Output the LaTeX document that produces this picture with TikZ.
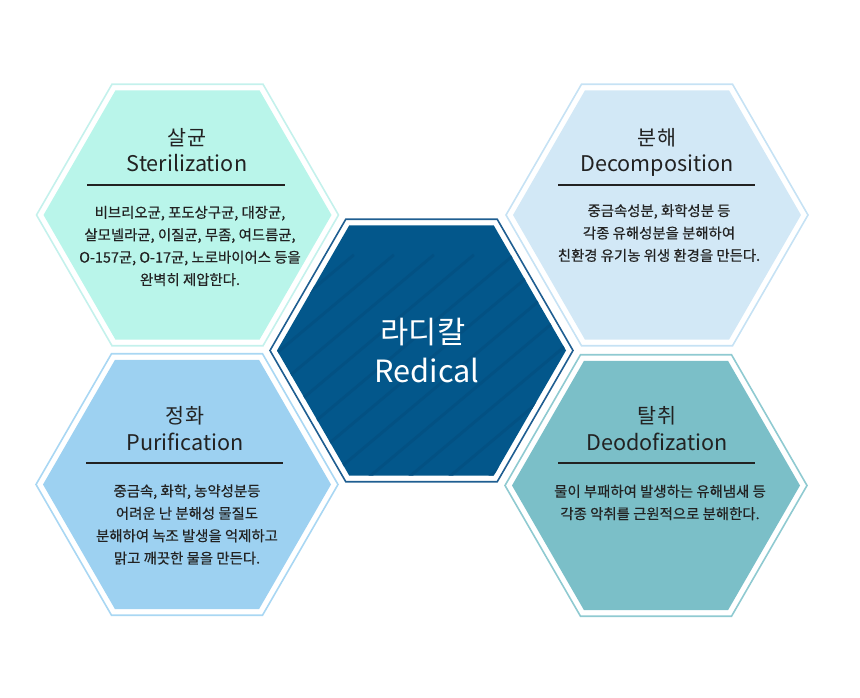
\documentclass[tikz,border=0pt]{standalone}
\usepackage{fontspec}
\setmainfont{Noto Sans CJK KR}
\newfontfamily\bodyfont{Noto Sans CJK KR}[FakeBold = 0.5]

\definecolor{mintfill}{HTML}{B9F5EA}
\definecolor{mintline}{HTML}{C4F1EC}
\definecolor{skyfill}{HTML}{D2E8F6}
\definecolor{skyline}{HTML}{C6E2F4}
\definecolor{bluefill}{HTML}{9DD1F1}
\definecolor{blueline}{HTML}{A9D7F3}
\definecolor{tealfill}{HTML}{7BBFC8}
\definecolor{tealline}{HTML}{8FCAD1}
\definecolor{navyfill}{HTML}{03578B}
\definecolor{navyline}{HTML}{1F5E91}
\definecolor{navystripe}{HTML}{035183}
\definecolor{inktext}{HTML}{222222}

% hexagon with left and right corners, radius #1
\newcommand{\hexagon}[1]{++(0:#1) -- ++(120:#1) -- ++(180:#1) -- ++(240:#1) -- ++(300:#1) -- ++(0:#1) -- cycle}

\tikzset{
	hexline/.style = {line width = 1.2pt},
	stripe/.style = {navystripe, line width = 2.2pt},
	kortitle/.style = {inktext, font = \fontsize{15.5}{18}\selectfont},
	engtitle/.style = {inktext, anchor = base, font = \fontsize{16.2}{18}\selectfont},
	bodytext/.style = {inktext, align = center, font = \bodyfont\fontsize{10.8}{16.8}\selectfont},
	titlerule/.style = {inktext, line width = 1.1pt},
	radtext/.style = {white, font = \fontsize{23}{27}\selectfont}
}

\begin{document}
\begin{tikzpicture}[x = 0.75pt, y = -0.75pt]

	\useasboundingbox (0, 0) rectangle (860, 698);

	% Hexagon centres

	\coordinate (steril) at (187.5, 215);
	\coordinate (decomp) at (657, 215);
	\coordinate (purif) at (187, 484.5);
	\coordinate (deodor) at (656, 485.5);
	\coordinate (radical) at (421.5, 350.5);

	% Outer hexagons

	\begin{scope}[hexline]

		\draw [mintline] (steril) \hexagon{151};
		\fill [mintfill] (steril) \hexagon{144};

		\draw [skyline] (decomp) \hexagon{151};
		\fill [skyfill] (decomp) \hexagon{144};

		\draw [blueline] (purif) \hexagon{151};
		\fill [bluefill] (purif) \hexagon{144};

		\draw [tealline] (deodor) \hexagon{151};
		\fill [tealfill] (deodor) \hexagon{144};

	\end{scope}

	% Centre hexagon

	\draw [hexline, navyline] (radical) \hexagon{151.5};
	\fill [navyfill] (radical) \hexagon{144.5};

	\begin{scope}
		\clip (radical) \hexagon{144.5};
		\foreach \x in {-420, -380, ..., 140}
			\draw [stripe] ([xshift = \x * 0.75pt, yshift = -150pt] radical) -- ++(-40:460);
	\end{scope}

	\node [radtext] (radkor) at (423, 332) {라디칼};
	\node [radtext] (radeng) at (427, 370) {Redical};

	% Titles and rules

	\node [kortitle] (sterkor) at (187, 138) {살균};
	\node [engtitle] (stereng) at (187, 171.5) {Sterilization};
	\coordinate (sterl) at (87, 185);
	\coordinate (sterr) at (285, 185);
	\draw [titlerule] (sterl) -- (sterr);

	\node [kortitle] (deckor) at (657, 138) {분해};
	\node [engtitle] (deceng) at (657, 171.5) {Decomposition};
	\coordinate (decl) at (558, 185);
	\coordinate (decr) at (755, 185);
	\draw [titlerule] (decl) -- (decr);

	\node [kortitle] (purkor) at (185, 416) {정화};
	\node [engtitle] (pureng) at (185, 450) {Purification};
	\coordinate (purl) at (86, 463);
	\coordinate (purr) at (283, 463);
	\draw [titlerule] (purl) -- (purr);

	\node [kortitle] (deokor) at (657, 416) {탈취};
	\node [engtitle] (deoeng) at (657, 450) {Deodofization};
	\coordinate (deol) at (558, 463);
	\coordinate (deor) at (755, 463);
	\draw [titlerule] (deol) -- (deor);

	% Body texts

	\node [bodytext] (sterbody) at (190, 246) {비브리오균, 포도상구균, 대장균,\\살모넬라균, 이질균, 무좀, 여드름균,\\O-157균, O-17균, 노로바이어스 등을\\완벽히 제압한다.};
	\node [bodytext] (decbody) at (659, 233) {중금속성분, 화학성분 등\\각종 유해성분을 분해하여\\친환경 유기농 위생 환경을 만든다.};
	\node [bodytext] (purbody) at (187, 524.5) {중금속, 화학, 농약성분등\\어려운 난 분해성 물질도\\분해하여 녹조 발생을 억제하고\\맑고 깨끗한 물을 만든다.};
	\node [bodytext] (deobody) at (660, 502.5) {물이 부패하여 발생하는 유해냄새 등\\각종 악취를 근원적으로 분해한다.};

\end{tikzpicture}
\end{document}
